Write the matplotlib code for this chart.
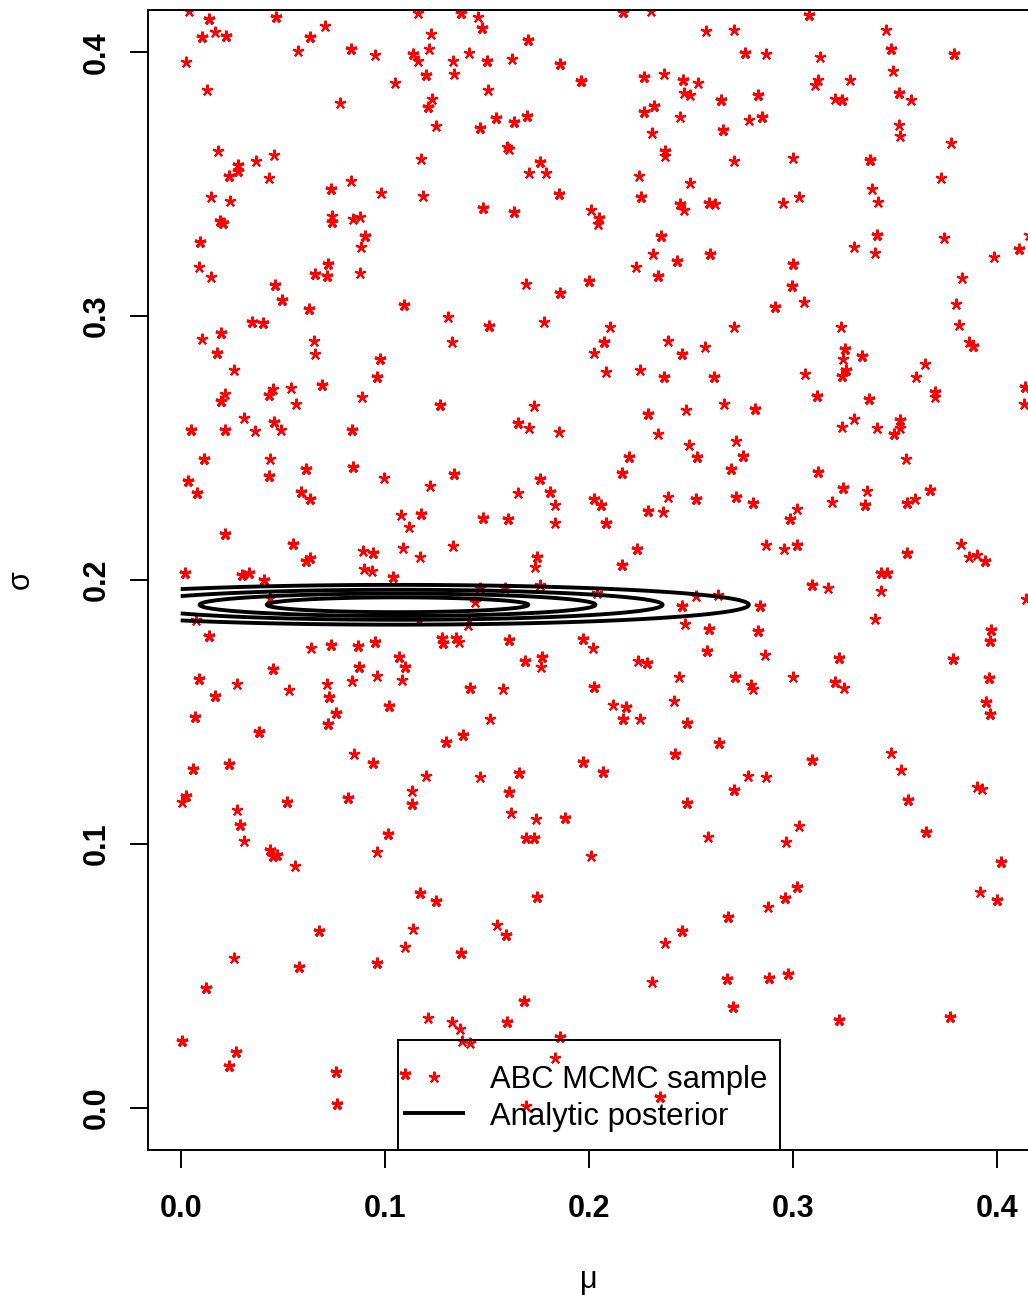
import numpy as np
import matplotlib
matplotlib.use('Agg')
import matplotlib.pyplot as plt
from matplotlib.markers import MarkerStyle
from matplotlib.patches import Rectangle
from matplotlib.lines import Line2D

plt.rcParams['font.family'] = ['Liberation Sans', 'DejaVu Sans']

# ABC MCMC draws of (mu, sigma); stay = how many iterations the chain sat on that draw
mu_sample = [
	0.0039, 0.0137, 0.0465, 0.1160, 0.0705, 0.0103, 0.0166, 0.0220, 0.0631, 0.1224,
	0.0573, 0.0832, 0.0954, 0.1140, 0.1214, 0.1160, 0.0024, 0.1199, 0.1052, 0.0127,
	0.0778, 0.1233, 0.1209, 0.1248, 0.0181, 0.0455, 0.0367, 0.0279, 0.0279, 0.0235,
	0.0431, 0.1175, 0.0734, 0.0832, 0.0979, 0.1185, 0.0147, 0.0240, 0.0191, 0.0206,
	0.0739, 0.0739, 0.0842, 0.0876, 0.0901, 0.0881, 0.0093, 0.0088, 0.0147, 0.0720,
	0.0656, 0.0715, 0.0876, 0.0460, 0.0494, 0.1375, 0.1454, 0.1478, 0.2168, 0.2305,
	0.1703, 0.2575, 0.2712, 0.1336, 0.1410, 0.1498, 0.1625, 0.1860, 0.1963, 0.1341,
	0.1503, 0.2271, 0.2369, 0.2462, 0.2536, 0.2467, 0.2496, 0.2648, 0.2271, 0.2320,
	0.2447, 0.2658, 0.1542, 0.1630, 0.1698, 0.1464, 0.2310, 0.1596, 0.1610, 0.2374,
	0.2374, 0.2712, 0.1762, 0.1708, 0.1787, 0.2247, 0.2496, 0.1855, 0.2256, 0.2447,
	0.2467, 0.2589, 0.2619, 0.1483, 0.1630, 0.2012, 0.2051, 0.2046, 0.2354, 0.2315,
	0.2433, 0.2594, 0.2232, 0.2340, 0.2002, 0.1689, 0.1860, 0.3079, 0.3456, 0.2766,
	0.2868, 0.3133, 0.3480, 0.3789, 0.3490, 0.3123, 0.3108, 0.3279, 0.2829, 0.3206,
	0.3240, 0.3519, 0.3578, 0.2785, 0.2849, 0.3519, 0.3524, 0.3774, 0.3000, 0.3377,
	0.3725, 0.3387, 0.3417, 0.2952, 0.3030, 0.3412, 0.3740, 0.3299, 0.3402, 0.3000,
	0.2996, 0.3984, 0.4107, 0.4155, 0.3828, 0.3054, 0.0627, 0.1092, 0.1307, 0.0348,
	0.0401, 0.0103, 0.0196, 0.0651, 0.0656, 0.0176, 0.0974, 0.0259, 0.0959, 0.0215,
	0.0196, 0.0450, 0.0431, 0.0538, 0.0690, 0.0563, 0.0886, 0.1268, 0.0308, 0.0455,
	0.0489, 0.0362, 0.0049, 0.0215, 0.0837, 0.0113, 0.0436, 0.0431, 0.0612, 0.0842,
	0.0994, 0.1219, 0.0034, 0.0078, 0.0587, 0.0631, 0.1077, 0.1175, 0.1116, 0.0215,
	0.0548, 0.0612, 0.0631, 0.0891, 0.0940, 0.1087, 0.1170, 0.0020, 0.0299, 0.0333,
	0.0406, 0.0896, 0.0935, 0.1038, 0.1512, 0.1777, 0.2105, 0.2712, 0.1331, 0.2075,
	0.2389, 0.2457, 0.2570, 0.2022, 0.2085, 0.2252, 0.2369, 0.2614, 0.1728, 0.1650,
	0.1708, 0.1855, 0.2291, 0.2477, 0.2663, 0.2340, 0.2491, 0.2531, 0.2721, 0.2198,
	0.2163, 0.2697, 0.1341, 0.1762, 0.1654, 0.1811, 0.1831, 0.2026, 0.2061, 0.2389,
	0.2526, 0.2721, 0.2291, 0.2364, 0.1483, 0.1605, 0.1831, 0.2085, 0.1336, 0.1743,
	0.1733, 0.2237, 0.2159, 0.2912, 0.3235, 0.3255, 0.3245, 0.3338, 0.3260, 0.3240,
	0.3059, 0.3798, 0.3813, 0.3862, 0.3882, 0.3647, 0.3603, 0.3696, 0.3696, 0.4136,
	0.4131, 0.3118, 0.3372, 0.2814, 0.3240, 0.3299, 0.3412, 0.3524, 0.3524, 0.3495,
	0.2756, 0.3554, 0.3123, 0.2805, 0.3245, 0.3363, 0.3191, 0.3353, 0.3559, 0.3598,
	0.3671, 0.3020, 0.2986, 0.2868, 0.2956, 0.3020, 0.3559, 0.3823, 0.3862, 0.3901,
	0.3940, 0.3431, 0.3461, 0.0436, 0.0073, 0.1165, 0.0137, 0.0636, 0.0734, 0.0866,
	0.0954, 0.1282, 0.1287, 0.1067, 0.1101, 0.0871, 0.0959, 0.0450, 0.0088, 0.0274,
	0.0529, 0.0715, 0.0837, 0.1082, 0.0724, 0.0166, 0.0759, 0.1018, 0.0069, 0.0720,
	0.0382, 0.1297, 0.0847, 0.0940, 0.1199, 0.0059, 0.0235, 0.0024, 0.0005, 0.0519,
	0.0817, 0.1131, 0.1131, 0.0274, 0.0289, 0.0308, 0.1013, 0.0959, 0.0436, 0.0470,
	0.0450, 0.1762, 0.2041, 0.2526, 0.2633, 0.1468, 0.1586, 0.1439, 0.1410, 0.2457,
	0.2472, 0.2589, 0.1346, 0.1361, 0.1610, 0.1968, 0.2017, 0.2580, 0.1684, 0.1772,
	0.1767, 0.2242, 0.2286, 0.2442, 0.2717, 0.1415, 0.1581, 0.2022, 0.2119, 0.2183,
	0.2168, 0.2252, 0.2418, 0.2482, 0.1517, 0.1385, 0.2638, 0.2423, 0.1968, 0.2066,
	0.1468, 0.1659, 0.1610, 0.2712, 0.2482, 0.1620, 0.1738, 0.1884, 0.1689, 0.1728,
	0.2584, 0.2012, 0.3093, 0.3172, 0.3431, 0.2839, 0.3402, 0.4141, 0.2829, 0.3970,
	0.3965, 0.2863, 0.3226, 0.3784, 0.2795, 0.2805, 0.3000, 0.3206, 0.3250, 0.3960,
	0.3945, 0.3965, 0.3480, 0.3529, 0.3093, 0.2780, 0.2868, 0.3563, 0.3901, 0.3926,
	0.3030, 0.2966, 0.3651, 0.0558, 0.1170, 0.1248, 0.0675, 0.1136, 0.1101, 0.0259,
	0.0578, 0.0959, 0.0122, 0.1209, 0.0005, 0.0269, 0.0235, 0.0759, 0.0764, 0.1101,
	0.1743, 0.1547, 0.1591, 0.1375, 0.1679, 0.1596, 0.1331, 0.1366, 0.1380, 0.1415,
	0.1860, 0.1831, 0.2349, 0.1689, 0.2682, 0.2457, 0.2374, 0.2310, 0.2677, 0.2707,
	0.2878, 0.2961, 0.3020, 0.2883, 0.2976, 0.3226, 0.3769, 0.4019, 0.3916, 0.3999,
	0.1405,
]

sigma_sample = [
	0.4155, 0.4125, 0.4133, 0.4148, 0.4098, 0.4057, 0.4076, 0.4061, 0.4057, 0.4068,
	0.4004, 0.4011, 0.3989, 0.3992, 0.4011, 0.3966, 0.3962, 0.3913, 0.3883, 0.3856,
	0.3807, 0.3822, 0.3792, 0.3720, 0.3625, 0.3610, 0.3587, 0.3572, 0.3549, 0.3530,
	0.3523, 0.3595, 0.3481, 0.3511, 0.3466, 0.3455, 0.3451, 0.3436, 0.3360, 0.3352,
	0.3379, 0.3356, 0.3367, 0.3375, 0.3303, 0.3261, 0.3280, 0.3186, 0.3148, 0.3197,
	0.3159, 0.3152, 0.3163, 0.3117, 0.3061, 0.4148, 0.4133, 0.4091, 0.4152, 0.4155,
	0.4045, 0.4080, 0.4083, 0.3966, 0.3996, 0.3966, 0.3973, 0.3955, 0.3890, 0.3917,
	0.3856, 0.3905, 0.3917, 0.3894, 0.3883, 0.3845, 0.3837, 0.3818, 0.3773, 0.3795,
	0.3754, 0.3705, 0.3750, 0.3735, 0.3758, 0.3712, 0.3693, 0.3640, 0.3633, 0.3625,
	0.3606, 0.3587, 0.3583, 0.3542, 0.3542, 0.3530, 0.3504, 0.3462, 0.3451, 0.3424,
	0.3402, 0.3428, 0.3424, 0.3409, 0.3394, 0.3402, 0.3371, 0.3348, 0.3303, 0.3235,
	0.3208, 0.3235, 0.3186, 0.3152, 0.3133, 0.3121, 0.3087, 0.4140, 0.4083, 0.3996,
	0.3992, 0.3981, 0.4011, 0.3992, 0.3928, 0.3894, 0.3875, 0.3894, 0.3837, 0.3822,
	0.3818, 0.3845, 0.3818, 0.3742, 0.3754, 0.3723, 0.3682, 0.3655, 0.3598, 0.3591,
	0.3523, 0.3481, 0.3432, 0.3428, 0.3451, 0.3307, 0.3295, 0.3261, 0.3239, 0.3197,
	0.3114, 0.3223, 0.3254, 0.3307, 0.3144, 0.3053, 0.3027, 0.3042, 0.2996, 0.2977,
	0.2973, 0.2913, 0.2936, 0.2905, 0.2856, 0.2860, 0.2837, 0.2795, 0.2769, 0.2705,
	0.2678, 0.2723, 0.2701, 0.2727, 0.2739, 0.2667, 0.2693, 0.2663, 0.2614, 0.2598,
	0.2568, 0.2564, 0.2568, 0.2568, 0.2568, 0.2458, 0.2458, 0.2394, 0.2420, 0.2428,
	0.2386, 0.2356, 0.2375, 0.2330, 0.2333, 0.2307, 0.2246, 0.2250, 0.2201, 0.2174,
	0.2136, 0.2072, 0.2083, 0.2110, 0.2102, 0.2121, 0.2087, 0.2027, 0.2019, 0.2027,
	0.2000, 0.2042, 0.2034, 0.2011, 0.2962, 0.2977, 0.2958, 0.2958, 0.2902, 0.2902,
	0.2905, 0.2856, 0.2883, 0.2860, 0.2788, 0.2795, 0.2769, 0.2769, 0.2659, 0.2595,
	0.2576, 0.2561, 0.2629, 0.2644, 0.2667, 0.2553, 0.2511, 0.2466, 0.2527, 0.2466,
	0.2405, 0.2420, 0.2402, 0.2383, 0.2330, 0.2333, 0.2284, 0.2307, 0.2284, 0.2314,
	0.2307, 0.2314, 0.2261, 0.2258, 0.2235, 0.2231, 0.2216, 0.2216, 0.2129, 0.2087,
	0.2049, 0.2117, 0.2057, 0.3034, 0.2958, 0.2875, 0.2837, 0.2848, 0.2795, 0.2773,
	0.2780, 0.3045, 0.2966, 0.2902, 0.2886, 0.2818, 0.2769, 0.2712, 0.2693, 0.2731,
	0.2667, 0.2697, 0.2686, 0.2648, 0.2580, 0.2610, 0.2576, 0.2606, 0.2576, 0.2553,
	0.2470, 0.2458, 0.2409, 0.2292, 0.2348, 0.2337, 0.2295, 0.2284, 0.2292, 0.2307,
	0.2341, 0.2269, 0.2231, 0.2133, 0.2117, 0.2133, 0.2102, 0.2136, 0.2087, 0.2095,
	0.2072, 0.2027, 0.2027, 0.1932, 0.1848, 0.1848, 0.1788, 0.1742, 0.1754, 0.1750,
	0.1765, 0.1780, 0.1761, 0.1708, 0.1670, 0.1670, 0.1636, 0.1663, 0.1625, 0.1606,
	0.1583, 0.1606, 0.1617, 0.1621, 0.1557, 0.1561, 0.1496, 0.1523, 0.1481, 0.1455,
	0.1424, 0.1386, 0.1341, 0.1307, 0.1258, 0.1284, 0.1303, 0.1182, 0.1159, 0.1159,
	0.1174, 0.1201, 0.1152, 0.1129, 0.1072, 0.1011, 0.1038, 0.0970, 0.0977, 0.0958,
	0.0955, 0.1981, 0.1951, 0.1939, 0.1943, 0.1970, 0.1970, 0.1917, 0.1848, 0.1902,
	0.1833, 0.1814, 0.1780, 0.1765, 0.1773, 0.1777, 0.1742, 0.1731, 0.1693, 0.1708,
	0.1670, 0.1693, 0.1686, 0.1633, 0.1633, 0.1591, 0.1587, 0.1595, 0.1527, 0.1519,
	0.1473, 0.1473, 0.1542, 0.1458, 0.1473, 0.1413, 0.1383, 0.1341, 0.1311, 0.1273,
	0.1254, 0.1269, 0.1197, 0.1205, 0.1155, 0.1117, 0.1095, 0.1098, 0.1023, 0.1023,
	0.1027, 0.0955, 0.1981, 0.1970, 0.1958, 0.1902, 0.1852, 0.1928, 0.1807, 0.1811,
	0.1769, 0.1716, 0.1705, 0.1701, 0.1602, 0.1587, 0.1633, 0.1614, 0.1591, 0.1629,
	0.1538, 0.1492, 0.1345, 0.1280, 0.1318, 0.1258, 0.1254, 0.1167, 0.1216, 0.1208,
	0.1068, 0.1008, 0.1045, 0.0917, 0.0814, 0.0784, 0.0670, 0.0678, 0.0610, 0.0568,
	0.0534, 0.0549, 0.0455, 0.0341, 0.0254, 0.0212, 0.0159, 0.0136, 0.0015, 0.0129,
	0.0799, 0.0693, 0.0655, 0.0587, 0.0405, 0.0326, 0.0326, 0.0299, 0.0254, 0.0246,
	0.0269, 0.0189, 0.0042, 0.0008, 0.0723, 0.0670, 0.0625, 0.0477, 0.0489, 0.0383,
	0.0761, 0.0795, 0.0837, 0.0492, 0.0508, 0.0333, 0.0345, 0.0932, 0.0818, 0.0788,
	0.1830,
]

stay = [
	1, 2, 2, 1, 1, 2, 1, 2, 2, 1,
	1, 2, 1, 2, 1, 1, 1, 2, 1, 1,
	1, 1, 2, 1, 1, 1, 1, 2, 2, 2,
	1, 1, 2, 1, 1, 1, 1, 1, 2, 2,
	1, 2, 1, 1, 2, 1, 2, 1, 1, 2,
	2, 2, 1, 2, 2, 2, 1, 2, 2, 1,
	2, 1, 1, 1, 1, 2, 1, 2, 3, 1,
	1, 2, 1, 2, 1, 1, 1, 2, 2, 2,
	1, 2, 2, 2, 2, 2, 1, 1, 1, 2,
	1, 1, 2, 1, 1, 1, 1, 2, 2, 2,
	1, 2, 1, 2, 2, 1, 2, 1, 2, 1,
	2, 2, 1, 2, 2, 1, 2, 2, 1, 2,
	1, 1, 2, 2, 1, 1, 1, 1, 2, 1,
	2, 2, 1, 1, 2, 1, 1, 1, 1, 3,
	1, 1, 1, 1, 1, 2, 1, 1, 1, 2,
	2, 1, 2, 1, 1, 1, 2, 2, 1, 2,
	2, 1, 2, 1, 1, 2, 2, 1, 2, 1,
	2, 1, 2, 1, 2, 1, 1, 2, 1, 2,
	1, 1, 2, 2, 2, 2, 1, 2, 2, 2,
	1, 1, 2, 2, 2, 2, 1, 2, 1, 2,
	2, 2, 2, 1, 2, 1, 1, 2, 2, 2,
	2, 1, 1, 2, 2, 1, 1, 1, 1, 2,
	1, 2, 1, 1, 1, 1, 2, 2, 1, 2,
	1, 1, 2, 1, 1, 1, 1, 2, 1, 2,
	2, 2, 2, 2, 1, 2, 1, 2, 2, 1,
	2, 2, 2, 1, 2, 2, 1, 2, 1, 2,
	1, 2, 2, 2, 1, 2, 1, 2, 2, 2,
	1, 1, 1, 1, 2, 1, 1, 2, 1, 2,
	1, 2, 2, 2, 1, 1, 1, 2, 1, 2,
	2, 1, 2, 2, 2, 1, 1, 2, 2, 1,
	2, 1, 2, 1, 1, 2, 2, 1, 1, 1,
	2, 2, 2, 1, 1, 1, 2, 1, 2, 2,
	2, 2, 2, 2, 2, 2, 1, 2, 2, 1,
	1, 1, 1, 1, 2, 2, 2, 2, 2, 2,
	3, 2, 1, 2, 1, 2, 2, 2, 1, 2,
	2, 1, 2, 1, 2, 1, 2, 1, 2, 2,
	2, 1, 1, 1, 1, 1, 1, 1, 1, 2,
	1, 2, 2, 1, 2, 2, 1, 2, 2, 2,
	1, 1, 2, 1, 2, 2, 1, 2, 1, 2,
	2, 1, 1, 2, 1, 2, 2, 2, 2, 2,
	1, 2, 2, 2, 2, 1, 1, 2, 2, 2,
	1, 1, 2, 1, 1, 2, 1, 1, 2, 2,
	2, 1, 2, 2, 1, 1, 1, 2, 1, 2,
	2, 2, 1, 1, 2, 1, 1, 2, 1, 1,
	1, 1, 2, 1, 2, 2, 2, 1, 1, 1,
	2, 2, 2, 1, 2, 2, 2, 2, 2, 2,
	2, 1, 2, 2, 2, 2, 1, 1, 1, 1,
	2, 1, 2, 1, 2, 2, 1, 1, 2, 2,
	1, 2, 2, 2, 2, 2, 2, 2, 1, 2,
	1,
]

# analytic posterior: mode, spread along each axis, and contour heights relative to the mode
post_mu = 0.1062
post_sigma = 0.1906
post_sd_mu = 0.0959
post_sd_sigma = 0.0042
post_levels = [0.2, 0.4, 0.6, 0.8]

ticks = [0.0, 0.1, 0.2, 0.3, 0.4]
tick_labels = ['0.0', '0.1', '0.2', '0.3', '0.4']

FS = 22
LW = 1.4
star = MarkerStyle((5, 2, 0), capstyle='round')

mu_sample = np.array(mu_sample)
sigma_sample = np.array(sigma_sample)
stay = np.array(stay)

fig = plt.figure(figsize=(10.28, 12.95), dpi=100)
ax = fig.add_axes([0.144, 0.112, 0.858, 0.8803])

# draws the chain stayed on get a heavier star, as overplotting does in R
for k in np.unique(stay):
	sel = stay == k
	ax.plot(mu_sample[sel], sigma_sample[sel], ls='none', marker=star, ms=8.3,
			mew=1.5 if k == 1 else 2.1 + 0.2 * (k - 2), color='red', zorder=2)

mg = np.linspace(0.0, 0.4, 801)
sg = np.linspace(0.16, 0.22, 601)
M, S = np.meshgrid(mg, sg)
dens = np.exp(-0.5 * ((M - post_mu) / post_sd_mu) ** 2
			  - 0.5 * ((S - post_sigma) / post_sd_sigma) ** 2)
ax.contour(M, S, dens, levels=post_levels, colors='black', linewidths=2.8, zorder=3)

ax.set_xlim(-0.016, 0.416)
ax.set_ylim(-0.016, 0.416)

ax.set_xticks(ticks, labels=tick_labels, fontweight='bold')
ax.set_yticks(ticks, labels=tick_labels, fontweight='bold', rotation=90, va='center')
ax.tick_params(direction='out', length=13, width=LW, labelsize=FS, color='black')
ax.tick_params(axis='x', pad=19)
ax.tick_params(axis='y', pad=13)
for sp in ax.spines.values():
	sp.set_linewidth(LW)

ax.set_xlabel('μ', fontsize=FS)
ax.xaxis.set_label_coords(0.5, -0.101)
ax.set_ylabel('σ', fontsize=FS)
ax.yaxis.set_label_coords(-0.127, 0.5)

# legend box at the bottom centre, transparent like R's
ta = ax.transAxes
ax.add_patch(Rectangle((0.2834, 0.0), 0.4332, 0.0965, transform=ta, fill=False,
					   edgecolor='black', lw=LW, zorder=5, clip_on=False))
ax.add_line(Line2D([0.3243], [0.0640], transform=ta, ls='none', marker=star, ms=8.3,
				   mew=1.5, color='red', zorder=5))
ax.add_line(Line2D([0.2914, 0.3571], [0.0325, 0.0325], transform=ta, color='black',
				   lw=2.8, zorder=5))
ax.text(0.3878, 0.0544, 'ABC MCMC sample', transform=ta, fontsize=22.3, va='baseline', zorder=5)
ax.text(0.3878, 0.0219, 'Analytic posterior', transform=ta, fontsize=22.3, va='baseline', zorder=5)

fig.savefig('out.png', dpi=100)
